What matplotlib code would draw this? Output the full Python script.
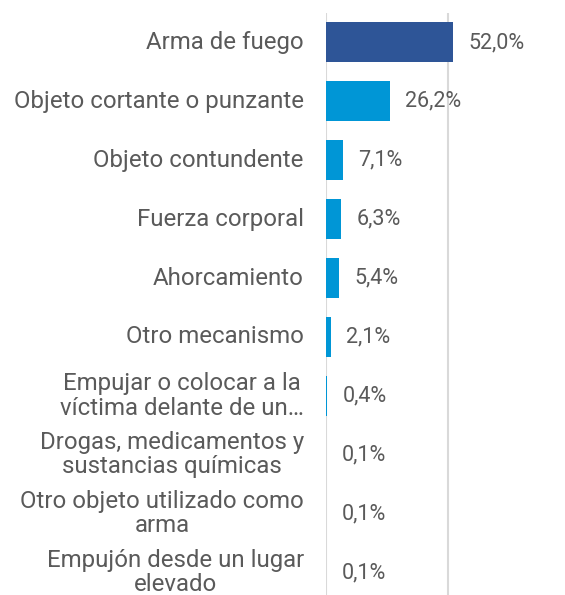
import matplotlib
matplotlib.use("Agg")
import matplotlib.pyplot as plt

categories = [
    "Arma de fuego",
    "Objeto cortante o punzante",
    "Objeto contundente",
    "Fuerza corporal",
    "Ahorcamiento",
    "Otro mecanismo",
    "Empujar o colocar a la\nvíctima delante de un…",
    "Drogas, medicamentos y\nsustancias químicas",
    "Otro objeto utilizado como\narma",
    "Empujón desde un lugar\nelevado",
]
values = [52.0, 26.2, 7.1, 6.3, 5.4, 2.1, 0.4, 0.1, 0.1, 0.1]
value_labels = ["52,0%", "26,2%", "7,1%", "6,3%", "5,4%", "2,1%", "0,4%", "0,1%", "0,1%", "0,1%"]

plt.rcParams['font.family'] = ['Roboto', 'DejaVu Sans']
text_color = "#5A5A5A"

fig = plt.figure(figsize=(5.65, 5.95), dpi=100)
# axes runs a little past the bottom edge so the rows keep their spacing
ax = fig.add_axes([326 / 565, -7 / 595, 1 - 326 / 565, 589 / 595])

colors = ["#2E5597"] + ["#0096D6"] * (len(values) - 1)
pos = list(range(len(values)))
ax.barh(pos, values, height=0.68, color=colors, zorder=3)

ax.set_xlim(0, 98)
ax.set_ylim(len(values) - 0.5, -0.5)
ax.set_xticks([0, 50])
ax.xaxis.grid(True, color="#D9D9D9", linewidth=1.5, zorder=0)
ax.tick_params(left=False, bottom=False, labelbottom=False, labelleft=False)
for s in ax.spines.values():
    s.set_visible(False)

for i, (cat, v, lab) in enumerate(zip(categories, values, value_labels)):
    ax.annotate(cat, xy=(0, i), xytext=(-16, 0), textcoords="offset points",
                ha="right", va="center", multialignment="center",
                fontsize=17.3, color=text_color, linespacing=1.08)
    ax.annotate(lab, xy=(v, i), xytext=(11, 0), textcoords="offset points",
                ha="left", va="center", fontsize=15.5, color=text_color)

fig.savefig("out.png", dpi=100, facecolor="white")
